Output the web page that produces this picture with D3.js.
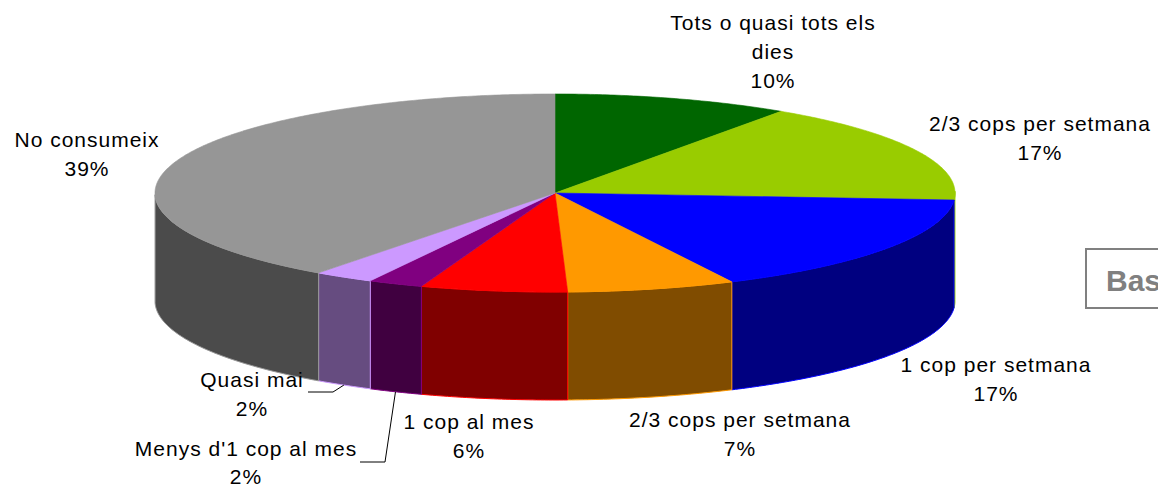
<!DOCTYPE html>
<html>
<head>
<meta charset="utf-8">
<script src="https://cdnjs.cloudflare.com/ajax/libs/d3/7.8.5/d3.min.js"></script>
<style>
  html, body { margin: 0; padding: 0; background: #fff; }
  svg { display: block; }
  text { font-family: "Liberation Sans", Arial, sans-serif; }
</style>
</head>
<body>
<svg id="chart" width="1158" height="485"></svg>
<script>
// slices, clockwise from 12 o'clock
const categories = [
  'Tots o quasi tots els dies', '2/3 cops per setmana', '1 cop per setmana',
  '2/3 cops per setmana', '1 cop al mes', "Menys d'1 cop al mes", 'Quasi mai', 'No consumeix'
];
const values = [9.6, 16.8, 16.8, 6.8, 5.9, 2.2, 2.4, 39.4];
const labelLines = [
  ['Tots o quasi tots els', 'dies'], ['2/3 cops per setmana'], ['1 cop per setmana'],
  ['2/3 cops per setmana'], ['1 cop al mes'], ["Menys d'1 cop al mes"], ['Quasi mai'], ['No consumeix']
];
const topColors = ['#006600', '#99cc00', '#0000ff', '#ff9900', '#ff0000', '#800080', '#cc99ff', '#969696'];
const sideColors = ['#003300', '#4c6600', '#000080', '#804c00', '#800000', '#400040', '#664c80', '#4b4b4b'];

// label layout (centre x, first baseline y); leader = start of horizontal stroke
const labelAt = [[773, 30], [1040, 131], [996, 372], [740, 427], [469, 429], [246, 456], [252, 387], [87, 147]];
const leaderFrom = [null, null, null, null, null, [360, 462], [308, 392], null];

const cx = 555, cy = 193, rx = 400, ry = 99, depth = 108;
const warp = 2 * Math.PI / 180; // slight perspective drift of the front half
const lineH = 29;

const svg = d3.select('#chart');

const pie = d3.pie().sort(null).value(d => d)(values);
const total = d3.sum(values);

const proj = (a, dz = 0) => {
  const p = a - warp * (1 - Math.cos(a)) / 2;
  return [cx + rx * Math.sin(p), cy - ry * Math.cos(p) + dz];
};
const arcPts = (a0, a1, dz = 0) => {
  const n = Math.max(2, Math.ceil((a1 - a0) / 0.01));
  return d3.range(n + 1).map(i => proj(a0 + (a1 - a0) * i / n, dz));
};
const line = d3.line();

// side walls (front half only)
const walls = svg.append('g');
pie.forEach((d, i) => {
  const a0 = Math.max(d.startAngle, Math.PI / 2),
        a1 = Math.min(d.endAngle, Math.PI * 3 / 2);
  if (a1 <= a0) return;
  const pts = arcPts(a0, a1).concat(arcPts(a0, a1, depth).reverse());
  walls.append('path')
    .attr('d', line(pts) + 'Z')
    .attr('fill', sideColors[i])
    .attr('stroke', topColors[i])
    .attr('stroke-width', 1)
    .attr('stroke-linejoin', 'round');
});

// top face
const topFace = svg.append('g');
pie.forEach((d, i) => {
  const pts = [[cx, cy]].concat(arcPts(d.startAngle, d.endAngle));
  topFace.append('path')
    .attr('d', line(pts) + 'Z')
    .attr('fill', topColors[i])
    .attr('stroke', topColors[i])
    .attr('stroke-width', 0.6);
});

// leader lines
pie.forEach((d, i) => {
  const from = leaderFrom[i];
  if (!from) return;
  const end = proj((d.startAngle + d.endAngle) / 2, depth);
  svg.append('path')
    .attr('d', line([from, [from[0] + 25, from[1]], end]))
    .attr('fill', 'none')
    .attr('stroke', '#000')
    .attr('stroke-width', 1);
});

// labels
const fmt = v => Math.round(v / total * 100) + '%';
pie.forEach((d, i) => {
  const [x, y] = labelAt[i];
  const rows = labelLines[i].concat([fmt(d.value)]);
  const t = svg.append('text')
    .attr('text-anchor', 'middle')
    .attr('font-size', 21)
    .attr('letter-spacing', 1)
    .attr('fill', '#000');
  rows.forEach((r, k) => {
    t.append('tspan').attr('x', x).attr('y', y + k * (i === 5 ? lineH - 1 : lineH)).text(r);
  });
});

// base box (cut by the right edge)
svg.append('rect')
  .attr('x', 1086).attr('y', 249).attr('width', 120).attr('height', 59)
  .attr('fill', '#fff').attr('stroke', '#808080').attr('stroke-width', 2);
svg.append('text')
  .attr('x', 1106).attr('y', 291)
  .attr('font-size', 30).attr('font-weight', 'bold')
  .attr('fill', '#808080')
  .text('Base');
</script>
</body>
</html>
